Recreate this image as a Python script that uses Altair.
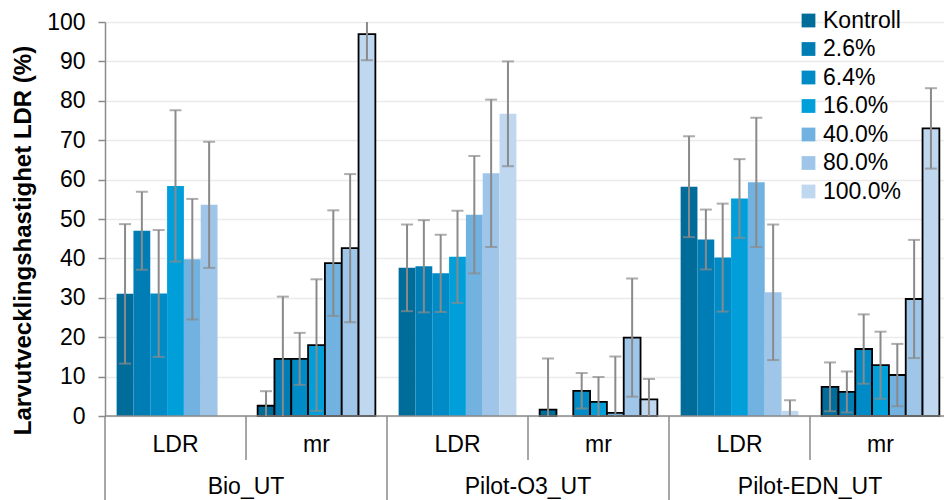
import altair as alt
import pandas as pd

groups = ["Bio_UT", "Pilot-O3_UT", "Pilot-EDN_UT"]
subgroups = ["LDR", "mr"]
series = ["Kontroll", "2.6%", "6.4%", "16.0%", "40.0%", "80.0%", "100.0%"]
colors = ["#006c9a", "#007db4", "#008bc7", "#009fda", "#72b2e0", "#9fc6e8", "#bfd7ef"]

bio_ldr = [31.0, 47.0, 31.1, 58.4, 39.8, 53.6, None]
bio_ldr_err = [17.7, 9.9, 16.1, 19.2, 15.3, 16.0, None]
bio_mr = [2.6, 14.5, 14.5, 18.0, 38.8, 42.6, 96.9]
bio_mr_err = [3.7, 15.8, 6.6, 16.7, 13.4, 18.8, 6.6]
o3_ldr = [37.6, 38.0, 36.2, 40.4, 51.1, 61.6, 76.7]
o3_ldr_err = [11.0, 11.7, 9.8, 11.7, 14.9, 18.7, 13.3]
o3_mr = [1.6, None, 6.4, 3.6, 0.8, 19.9, 4.2]
o3_mr_err = [13.0, None, 4.5, 6.3, 14.3, 15.0, 5.2]
edn_ldr = [58.2, 44.8, 40.2, 55.2, 59.3, 31.4, 1.3]
edn_ldr_err = [12.8, 7.6, 13.7, 10.0, 16.4, 17.2, 2.7]
edn_mr = [7.4, 6.1, 17.0, 12.9, 10.4, 29.7, 73.0]
edn_mr_err = [6.2, 5.2, 8.8, 8.5, 7.9, 15.0, 10.2]
y_ticks = [0, 10, 20, 30, 40, 50, 60, 70, 80, 90, 100]

table = {
    ("Bio_UT", "LDR"): (bio_ldr, bio_ldr_err),
    ("Bio_UT", "mr"): (bio_mr, bio_mr_err),
    ("Pilot-O3_UT", "LDR"): (o3_ldr, o3_ldr_err),
    ("Pilot-O3_UT", "mr"): (o3_mr, o3_mr_err),
    ("Pilot-EDN_UT", "LDR"): (edn_ldr, edn_ldr_err),
    ("Pilot-EDN_UT", "mr"): (edn_mr, edn_mr_err),
}

cats = []
rows, caps = [], []
for g in groups:
    for s in subgroups:
        cat = f"{g} {s}"
        cats.append(cat)
        vals, errs = table[(g, s)]
        for ser, v, e in zip(series, vals, errs):
            if v is None:
                continue
            lo, hi = v - e, v + e
            rows.append(dict(cat=cat, group=g, sub=s, series=ser, value=v,
                             lo=max(0.0, lo), hi=min(100.0, hi)))
            if lo >= 0:
                caps.append(dict(cat=cat, series=ser, cap=lo))
            if hi <= 100:
                caps.append(dict(cat=cat, series=ser, cap=hi))
df = pd.DataFrame(rows)
cap_df = pd.DataFrame(caps)

W, H = 846, 394
FONT = "Liberation Sans"
FS = 23

xenc = alt.X("cat:N", scale=alt.Scale(domain=cats, paddingInner=0.165, paddingOuter=0.0825), axis=None)
xoff = alt.XOffset("series:N", scale=alt.Scale(domain=series, paddingInner=0, paddingOuter=0))
yscale = alt.Scale(domain=[0, 100])
yaxis = alt.Axis(values=y_ticks, labelOverlap=False, tickCount=11,
                 title="Larvutvecklingshastighet LDR (%)",
                 titleFontSize=24, titleFontWeight="bold", titleColor="black",
                 titleX=-70, titleY=218,
                 labelFontSize=FS, labelColor="black", labelPadding=13,
                 tickColor="#8a8a8a", tickSize=7, tickWidth=1.5,
                 domainColor="#8a8a8a", domainWidth=1.5,
                 gridColor="#ebebeb", gridWidth=1.5)

bars = alt.Chart(df).mark_bar(strokeWidth=1.8).encode(
    x=xenc,
    xOffset=xoff,
    y=alt.Y("value:Q", scale=yscale, axis=yaxis),
    color=alt.Color("series:N", scale=alt.Scale(domain=series, range=colors),
                    legend=alt.Legend(title=None, orient="none", legendX=692, legendY=-13,
                                      symbolType="square", symbolSize=190,
                                      symbolStrokeWidth=0, labelFontSize=FS,
                                      labelColor="black", labelOffset=3,
                                      rowPadding=4.5, padding=0)),
    stroke=alt.when(alt.datum.sub == "mr").then(alt.value("black")).otherwise(alt.value("transparent")),
)

err = alt.Chart(df).mark_rule(color="#8a8a8a", strokeWidth=2).encode(
    x=xenc, xOffset=xoff,
    y=alt.Y("lo:Q", scale=yscale, axis=yaxis), y2="hi:Q",
)
capm = alt.Chart(cap_df).mark_tick(color="#8a8a8a", thickness=2, size=12).encode(
    x=xenc, xOffset=xoff,
    y=alt.Y("cap:Q", scale=yscale, axis=yaxis),
)

main = alt.layer(bars, err, capm)

# decoration: two-level category axis
n = len(cats)
long_df = pd.DataFrame({"pos": [i for i in range(n + 1) if i % 2 == 0]})
short_df = pd.DataFrame({"pos": [i for i in range(n + 1) if i % 2 == 1]})
base_df = pd.DataFrame({"start": [0], "end": [n]})
sub_df = pd.DataFrame({"pos": [i + 0.5 for i in range(n)],
                       "label": [subgroups[i % 2] for i in range(n)]})
grp_df = pd.DataFrame({"pos": [2 * i + 1 for i in range(len(groups))], "label": groups})

xl = alt.Scale(domain=[0, n])
baseline = alt.Chart(base_df).mark_rule(color="#8a8a8a", strokeWidth=1.5).encode(
    x=alt.X("start:Q", scale=xl, axis=None), x2="end:Q", y=alt.value(H))
seps_long = alt.Chart(long_df).mark_rule(color="#8a8a8a", strokeWidth=1.5).encode(
    x=alt.X("pos:Q", scale=xl, axis=None), y=alt.value(H), y2=alt.value(H + 84))
seps_short = alt.Chart(short_df).mark_rule(color="#8a8a8a", strokeWidth=1.5).encode(
    x=alt.X("pos:Q", scale=xl, axis=None), y=alt.value(H), y2=alt.value(H + 44))
sublab = alt.Chart(sub_df).mark_text(fontSize=FS, color="black", baseline="middle", font=FONT).encode(
    x=alt.X("pos:Q", scale=xl, axis=None), y=alt.value(H + 29), text="label:N")
grplab = alt.Chart(grp_df).mark_text(fontSize=FS, color="black", baseline="middle", font=FONT).encode(
    x=alt.X("pos:Q", scale=xl, axis=None), y=alt.value(H + 71), text="label:N")
deco = alt.layer(baseline, seps_long, seps_short, sublab, grplab)

chart = alt.layer(main, deco).resolve_scale(x="independent").properties(
    width=W, height=H,
    autosize=alt.AutoSizeParams(type="none"),
    padding={"left": 105, "top": 22, "right": -7, "bottom": 84},
).configure(font=FONT).configure_view(stroke=None)

chart.save("out.html", embed_options={"renderer": "svg", "actions": False})
